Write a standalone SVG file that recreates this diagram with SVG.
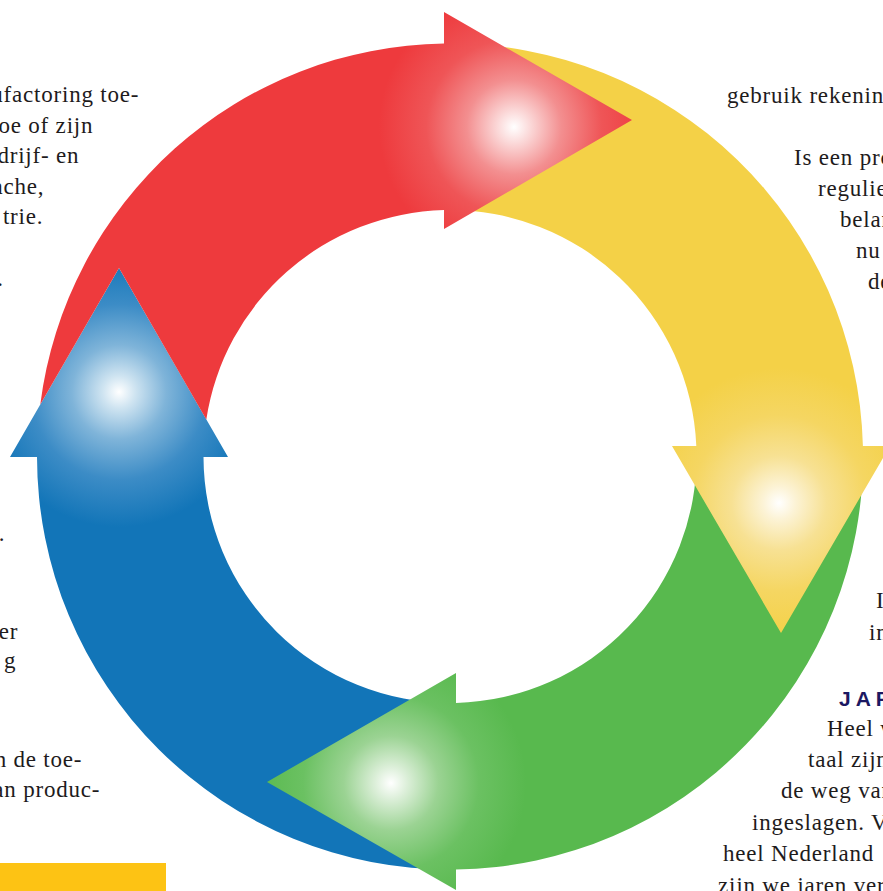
<svg xmlns="http://www.w3.org/2000/svg" width="883" height="891" viewBox="0 0 883 891">
<style>
.t{font-family:"Liberation Serif","Times New Roman",serif;font-size:23px;fill:#1e1b1c;letter-spacing:0.8px}
.e{text-anchor:end}
.h{font-family:"Liberation Sans",Arial,sans-serif;font-weight:bold;font-size:21px;letter-spacing:5px;fill:#1c1862}
</style>
<defs>
<radialGradient id="gRed" gradientUnits="userSpaceOnUse" cx="514" cy="127" r="135">
<stop offset="0" stop-color="#ffffff"/><stop offset="0.12" stop-color="#fbd9d9"/><stop offset="0.35" stop-color="#f38f90"/><stop offset="0.65" stop-color="#ef5557"/><stop offset="1" stop-color="#ee3a3d"/>
</radialGradient>
<radialGradient id="gYellow" gradientUnits="userSpaceOnUse" cx="779" cy="503" r="135">
<stop offset="0" stop-color="#ffffff"/><stop offset="0.12" stop-color="#fcf3d6"/><stop offset="0.35" stop-color="#f7e193"/><stop offset="0.65" stop-color="#f5d662"/><stop offset="1" stop-color="#f4d147"/>
</radialGradient>
<radialGradient id="gGreen" gradientUnits="userSpaceOnUse" cx="391" cy="783" r="135">
<stop offset="0" stop-color="#ffffff"/><stop offset="0.12" stop-color="#dcefd9"/><stop offset="0.35" stop-color="#9bd393"/><stop offset="0.65" stop-color="#6bc162"/><stop offset="1" stop-color="#58b94e"/>
</radialGradient>
<radialGradient id="gBlue" gradientUnits="userSpaceOnUse" cx="119" cy="392" r="135">
<stop offset="0" stop-color="#ffffff"/><stop offset="0.12" stop-color="#cfe4f1"/><stop offset="0.35" stop-color="#7fb4d9"/><stop offset="0.65" stop-color="#3c8cc6"/><stop offset="1" stop-color="#1275b8"/>
</radialGradient>
</defs>
<rect width="883" height="891" fill="#ffffff"/>
<g id="arrow-blue">
<path fill="url(#gBlue)" d="M 452 869.5 A 413 413 0 0 1 37 457 L 10 457 L 119 268 L 228 457 L 203.5 457 A 246.5 246.5 0 0 0 452 703 Z"/>
</g>
<g id="arrow-green">
<path fill="url(#gGreen)" d="M 863 452 A 413 413 0 0 1 456 869.5 L 456 890 L 267 782 L 456 673 L 456 702.9 A 246.5 246.5 0 0 0 696.5 452 Z"/>
</g>
<g id="arrow-yellow">
<path fill="url(#gYellow)" d="M 447 43.5 A 413 413 0 0 1 862.9 446 L 890 446 L 781 633 L 672 446 L 696.3 446 A 246.5 246.5 0 0 0 447 210 Z"/>
</g>
<g id="arrow-red">
<path fill="url(#gRed)" d="M 40.29 404.48 A 413 413 0 0 1 444 43.5 L 444 12 L 632 120 L 444 229 L 444 210.1 A 246.5 246.5 0 0 0 206.31 419.39 L 119 268 Z"/>
</g>
<rect id="yellow-box" x="0" y="863" width="166" height="28" fill="#fdc314"/>
<g id="text-left">
<text class="t e" x="139.3" y="102">ufactoring toe-</text>
<text class="t e" x="93.3" y="132.5">oe of zijn</text>
<text class="t e" x="79.3" y="163">drijf- en</text>
<text class="t e" x="44.3" y="193.5">ache,</text>
<text class="t e" x="43.3" y="224">trie.</text>
<text class="t e" x="3.9" y="286">.</text>
<text class="t e" x="5.4" y="541">.</text>
<text class="t e" x="18.3" y="639">er</text>
<text class="t e" x="16.3" y="668">g</text>
<text class="t e" x="82.3" y="767">n de toe-</text>
<text class="t e" x="100.3" y="797">an produc-</text>
</g>
<g id="text-right">
<text class="t" x="727" y="103">gebruik rekenin</text>
<text class="t" x="794" y="165">Is een pro</text>
<text class="t" x="818" y="196">regulie</text>
<text class="t" x="840" y="227">belan</text>
<text class="t" x="856" y="258">nu</text>
<text class="t" x="868" y="289">de</text>
<text class="t" x="876" y="608">I</text>
<text class="t" x="869" y="640">in</text>
<text class="h" x="839" y="706">JAR</text>
<text class="t" x="827" y="736">Heel w</text>
<text class="t" x="808" y="767">taal zijn</text>
<text class="t" x="781" y="798">de weg van</text>
<text class="t" x="752" y="830">ingeslagen. V</text>
<text class="t" x="723" y="861">heel Nederland</text>
<text class="t" x="718" y="893">zijn we jaren ver</text>
</g>
</svg>
